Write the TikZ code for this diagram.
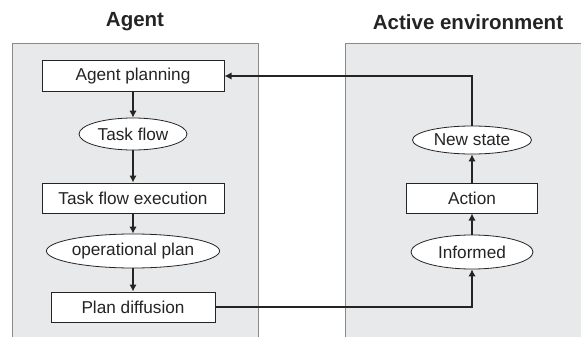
\documentclass[tikz,border=0pt]{standalone}
\usepackage{fontspec}
\setmainfont{Liberation Sans}
\usetikzlibrary{shapes.geometric,arrows.meta}
\definecolor{panelfill}{HTML}{E8E9EB}
\definecolor{panelline}{HTML}{8A8A8A}
\definecolor{ink}{HTML}{242424}
\tikzset{
  panel/.style={fill=panelfill,draw=panelline,line width=0.8pt},
  boxnode/.style={draw=ink,fill=white,line width=1pt,rectangle,inner sep=0pt,text=ink,font=\fontsize{17.2}{19}\selectfont},
  ovalnode/.style={draw=ink,fill=white,line width=0.8pt,ellipse,inner sep=0pt,text=ink,font=\fontsize{17.2}{19}\selectfont},
  titletext/.style={text=ink,font=\fontsize{20.5}{24}\selectfont\bfseries},
  flow/.style={draw=ink,line width=2pt,-{Latex[length=7pt,width=7.5pt]}}
}
\begin{document}
\begin{tikzpicture}[x=1pt,y=-1pt]
\useasboundingbox (0,0) rectangle (581,337);
\begin{scope}
\clip (0,0) rectangle (581,337);
\path[panel] (12,43) rectangle (258,345);
\path[panel] (345,43) rectangle (590,345);
\end{scope}
\node[titletext] (t1) at (135,22) {Agent};
\node[titletext] (t2) at (468,22) {Active environment};
\node[boxnode,minimum width=182pt,minimum height=30pt] (ap) at (133,76) {Agent planning};
\node[ovalnode,minimum width=108pt,minimum height=32pt] (tf) at (133,134) {Task flow};
\node[boxnode,minimum width=182pt,minimum height=30pt] (tfe) at (133,198) {Task flow execution};
\node[ovalnode,minimum width=150pt,minimum height=34pt] (op) at (133,251) {operational plan};
\node[boxnode,minimum width=164pt,minimum height=30pt] (pd) at (133,307) {Plan diffusion};
\node[ovalnode,minimum width=119pt,minimum height=28pt] (ns) at (472,140) {New state};
\node[boxnode,minimum width=131pt,minimum height=30pt] (ac) at (472,198) {Action};
\node[ovalnode,minimum width=122pt,minimum height=34pt] (inf) at (472,252) {Informed};
\draw[flow] (ap.south) -- (tf.north);
\draw[flow] (tf.south) -- (tfe.north);
\draw[flow] (tfe.south) -- (op.north);
\draw[flow] (op.south) -- (pd.north);
\draw[flow] (pd.east) -| (inf.south);
\draw[flow] (inf.north) -- (ac.south);
\draw[flow] (ac.north) -- (ns.south);
\draw[flow] (ns.north) |- (ap.east);
\end{tikzpicture}
\end{document}
